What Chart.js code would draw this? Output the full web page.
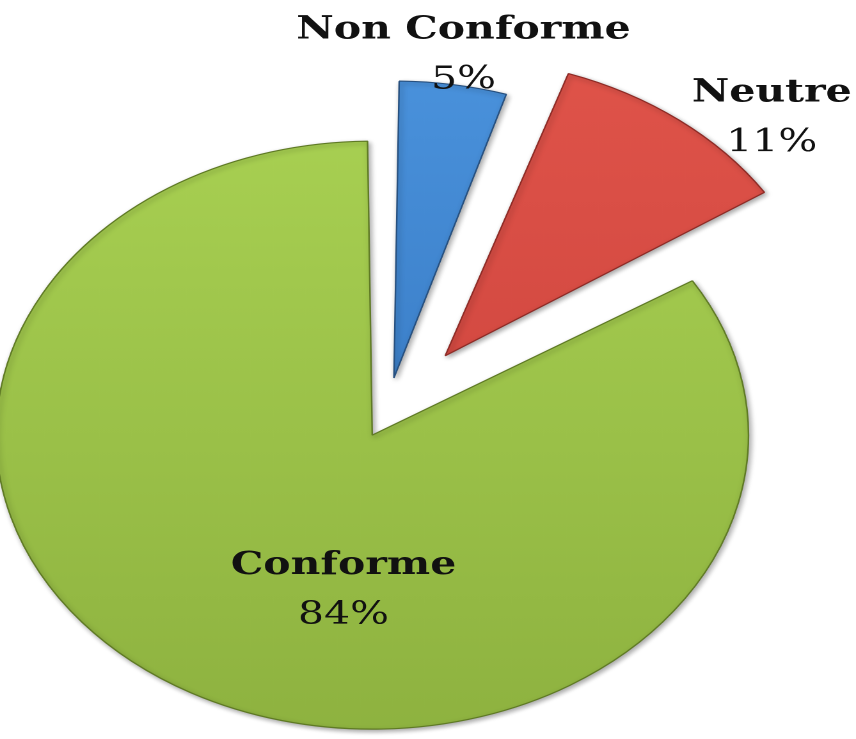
<!DOCTYPE html>
<html>
<head>
  <title>Conformité</title>
  <script src="https://cdn.jsdelivr.net/npm/chart.js"></script>
  <style>
    body { margin: 0; background: #fff; overflow: hidden; }
    /* chart is drawn narrow, then widened like the original figure */
    #wrap {
      position: absolute; left: 0; top: 0;
      width: 669px; height: 739px;
      transform: scaleX(1.2795);
      transform-origin: 0 0;
    }
  </style>
</head>
<body>
  <div id="wrap"><canvas id="pieChart"></canvas></div>

  <script>
    const categories = ['Non Conforme', 'Neutre', 'Conforme'];
    const shares = [5, 11, 84];

    // top / bottom colour of each slice, and its outline
    const topColors = ['#4a92dc', '#e0544a', '#a8d052'];
    const bottomColors = ['#2f6fb8', '#c8403a', '#8db13f'];
    const edgeColors = ['#27507f', '#8e2b26', '#5f7a25'];

    // where each label sits: distance from the centre and a small turn (degrees)
    const labelPlacement = [
      { dist: 365, turn: 0.5 },
      { dist: 423, turn: 7.6 },
      { dist: 179, turn: -18 }
    ];

    function sliceFill(context) {
      const chart = context.chart;
      const area = chart.chartArea;
      if (!area) return topColors[context.dataIndex];
      const g = chart.ctx.createLinearGradient(0, 100, 0, 739);
      g.addColorStop(0, topColors[context.dataIndex]);
      g.addColorStop(1, bottomColors[context.dataIndex]);
      return g;
    }

    const softShadow = {
      id: 'softShadow',
      beforeDatasetsDraw(chart) {
        const c = chart.ctx;
        c.save();
        c.shadowColor = 'rgba(0,0,0,0.35)';
        c.shadowBlur = 10;
        c.shadowOffsetX = 3;
        c.shadowOffsetY = 4;
      },
      afterDatasetsDraw(chart) {
        chart.ctx.restore();
      }
    };

    const sliceLabels = {
      id: 'sliceLabels',
      afterDraw(chart) {
        const c = chart.ctx;
        const arcs = chart.getDatasetMeta(0).data;
        c.save();
        c.fillStyle = '#111';
        c.textAlign = 'center';
        c.textBaseline = 'middle';
        arcs.forEach((arc, i) => {
          const p = labelPlacement[i];
          const a = (arc.startAngle + arc.endAngle) / 2 + p.turn * Math.PI / 180;
          const x = arc.x + Math.cos(a) * p.dist;
          const y = arc.y + Math.sin(a) * p.dist;
          c.font = 'bold 32px "DejaVu Serif", serif';
          c.fillText(categories[i], x, y - 25);
          c.font = '32px "DejaVu Serif", serif';
          c.fillText(shares[i] + '%', x, y + 25);
        });
        c.restore();
      }
    };

    const ctx = document.getElementById('pieChart').getContext('2d');
    new Chart(ctx, {
      type: 'pie',
      data: {
        labels: categories,
        datasets: [{
          data: shares,
          backgroundColor: sliceFill,
          borderColor: edgeColors,
          borderWidth: 1.2,
          offset: [150, 300, 92],
          radius: 271
        }]
      },
      options: {
        responsive: true,
        maintainAspectRatio: false,
        devicePixelRatio: 2,
        animation: false,
        layout: { padding: { left: 0, right: 65, top: 91, bottom: 0 } },
        plugins: {
          legend: { display: false },
          tooltip: { enabled: false }
        }
      },
      plugins: [softShadow, sliceLabels]
    });
  </script>
</body>
</html>
